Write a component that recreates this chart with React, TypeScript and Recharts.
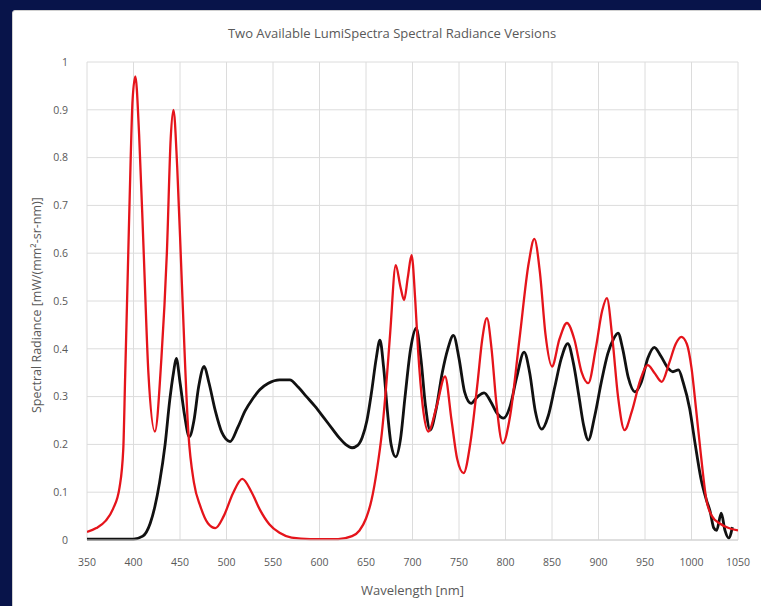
import React from 'react';
import { LineChart, Line, XAxis, YAxis, CartesianGrid } from 'recharts';

// red version: wavelength [nm] / radiance
const redWavelengths = [
    350, 360, 370, 378, 385, 389, 391, 394, 397, 399, 402, 406, 411, 416, 423, 430, 436, 440, 443, 447, 452, 459,
    465, 472, 480, 488, 497, 507, 517, 527, 536, 546, 557, 570, 590, 620, 635, 643, 650, 656, 662, 667,
    672, 676, 682, 687, 691, 695, 699, 703, 706, 711, 717, 726, 735, 742, 748, 755, 762, 770, 775, 780,
    785, 790, 797, 805, 815, 825, 831, 837, 843, 850, 858, 866, 874, 882, 889, 897, 904, 909, 915, 921,
    928, 936, 945, 953, 960, 968, 976, 983, 989, 995, 1000, 1005, 1010, 1016, 1022, 1030, 1040, 1050
];
const redRadiance = [
    0.017, 0.025, 0.04, 0.065, 0.11, 0.19, 0.34, 0.57, 0.8, 0.92, 0.97, 0.85, 0.6, 0.35, 0.227, 0.38, 0.607, 0.84, 0.9, 0.78, 0.537, 0.224,
    0.12, 0.07, 0.035, 0.025, 0.05, 0.098, 0.128, 0.1, 0.063, 0.033, 0.015, 0.005, 0.002, 0.002, 0.008, 0.02, 0.045, 0.084, 0.15, 0.223,
    0.33, 0.433, 0.575, 0.53, 0.502, 0.55, 0.596, 0.5, 0.397, 0.28, 0.227, 0.28, 0.342, 0.25, 0.17, 0.14, 0.2, 0.33, 0.42, 0.464,
    0.4, 0.29, 0.202, 0.26, 0.42, 0.58, 0.63, 0.56, 0.43, 0.363, 0.42, 0.454, 0.42, 0.35, 0.328, 0.4, 0.48, 0.506, 0.42, 0.3,
    0.23, 0.27, 0.335, 0.366, 0.35, 0.331, 0.37, 0.41, 0.425, 0.41, 0.36, 0.272, 0.18, 0.084, 0.05, 0.035, 0.025, 0.02
];

// black version
const blackWavelengths = [
    350, 400, 410, 418, 423, 428, 434, 439, 443, 446, 450, 455, 460, 465, 470, 476, 481, 488, 495, 504,
    512, 520, 528, 536, 545, 557, 568, 577, 586, 595, 605, 614, 622, 628, 635, 641, 646, 651, 656, 661,
    665, 669, 673, 677, 682, 687, 692, 698, 704, 709, 714, 719, 725, 732, 738, 744, 750, 756, 763, 770,
    777, 784, 791, 798, 805, 812, 820, 826, 832, 839, 846, 853, 860, 867, 873, 879, 884, 889, 896, 903,
    910, 916, 921, 926, 932, 939, 946, 953, 960, 967, 975, 980, 986, 991, 998, 1004, 1010, 1016, 1020, 1024,
    1027, 1032, 1036, 1040, 1044
];
const blackRadiance = [
    0.002, 0.002, 0.008, 0.035, 0.07, 0.12, 0.2, 0.293, 0.35, 0.38, 0.33, 0.26, 0.216, 0.25, 0.32, 0.363, 0.33, 0.27, 0.225, 0.206,
    0.235, 0.27, 0.295, 0.315, 0.328, 0.335, 0.335, 0.32, 0.3, 0.28, 0.255, 0.232, 0.212, 0.2, 0.193, 0.198, 0.215, 0.25, 0.31, 0.38,
    0.418, 0.36, 0.27, 0.2, 0.174, 0.21, 0.3, 0.4, 0.443, 0.38, 0.28, 0.23, 0.27, 0.35, 0.4, 0.428, 0.38, 0.31, 0.286, 0.3,
    0.308, 0.29, 0.265, 0.255, 0.28, 0.34, 0.393, 0.35, 0.27, 0.232, 0.26, 0.32, 0.38, 0.411, 0.37, 0.3, 0.24, 0.209, 0.26, 0.33,
    0.39, 0.42, 0.433, 0.4, 0.34, 0.31, 0.33, 0.38, 0.403, 0.385, 0.359, 0.352, 0.356, 0.33, 0.275, 0.2, 0.13, 0.084, 0.06, 0.025,
    0.02, 0.056, 0.02, 0.004, 0.027
];

const xTicks = [350, 400, 450, 500, 550, 600, 650, 700, 750, 800, 850, 900, 950, 1000, 1050];
const yTicks = [0, 0.1, 0.2, 0.3, 0.4, 0.5, 0.6, 0.7, 0.8, 0.9, 1];

const redData = redWavelengths.map((wl, i) => ({ wl, v: redRadiance[i] }));
const blackData = blackWavelengths.map((wl, i) => ({ wl, v: blackRadiance[i] }));

const font = '"Open Sans", "Liberation Sans", sans-serif';
const tickStyle = { fill: '#595959', fontSize: 10.5, fontFamily: font };

export default function App() {
    return (
        <div style={{ position: 'absolute', left: 0, top: 0, width: 761, height: 606, background: '#08144a', overflow: 'hidden' }}>
            <div
                style={{
                    position: 'absolute', left: 12, top: 10, width: 800, height: 640,
                    background: '#fff', border: '1px solid #d0d0d0', borderRadius: 3
                }}
            />
            <div
                style={{
                    position: 'absolute', left: 12, top: 24, width: 760, textAlign: 'center',
                    fontFamily: font, fontSize: 13, color: '#595959'
                }}
            >
                Two Available LumiSpectra Spectral Radiance Versions
            </div>
            <div style={{ position: 'absolute', left: 0, top: 0 }}>
                <LineChart width={761} height={606} margin={{ top: 62, right: 23, bottom: 6, left: 47 }}>
                    <CartesianGrid stroke="#dcdcdc" strokeWidth={1} />
                    <XAxis
                        type="number"
                        dataKey="wl"
                        domain={[350, 1050]}
                        ticks={xTicks}
                        allowDataOverflow
                        height={60}
                        tickLine={false}
                        axisLine={{ stroke: '#d0d0d0' }}
                        tick={tickStyle}
                        tickMargin={13}
                        label={{ value: 'Wavelength [nm]', position: 'insideBottom', offset: 5, fill: '#595959', fontSize: 13, fontFamily: font }}
                    />
                    <YAxis
                        type="number"
                        domain={[0, 1]}
                        ticks={yTicks}
                        width={40}
                        tickLine={false}
                        axisLine={false}
                        tick={tickStyle}
                        tickMargin={13}
                        label={{
                            value: 'Spectral Radiance [mW/(mm²-sr-nm)]', angle: -90, position: 'insideLeft',
                            offset: -10, dy: 112, fill: '#595959', fontSize: 12.5, fontFamily: font
                        }}
                    />
                    <Line data={blackData} dataKey="v" type="monotone" stroke="#111" strokeWidth={2.8} dot={false} isAnimationActive={false} />
                    <Line data={redData} dataKey="v" type="monotone" stroke="#e5141b" strokeWidth={2.3} dot={false} isAnimationActive={false} />
                </LineChart>
            </div>
        </div>
    );
}
